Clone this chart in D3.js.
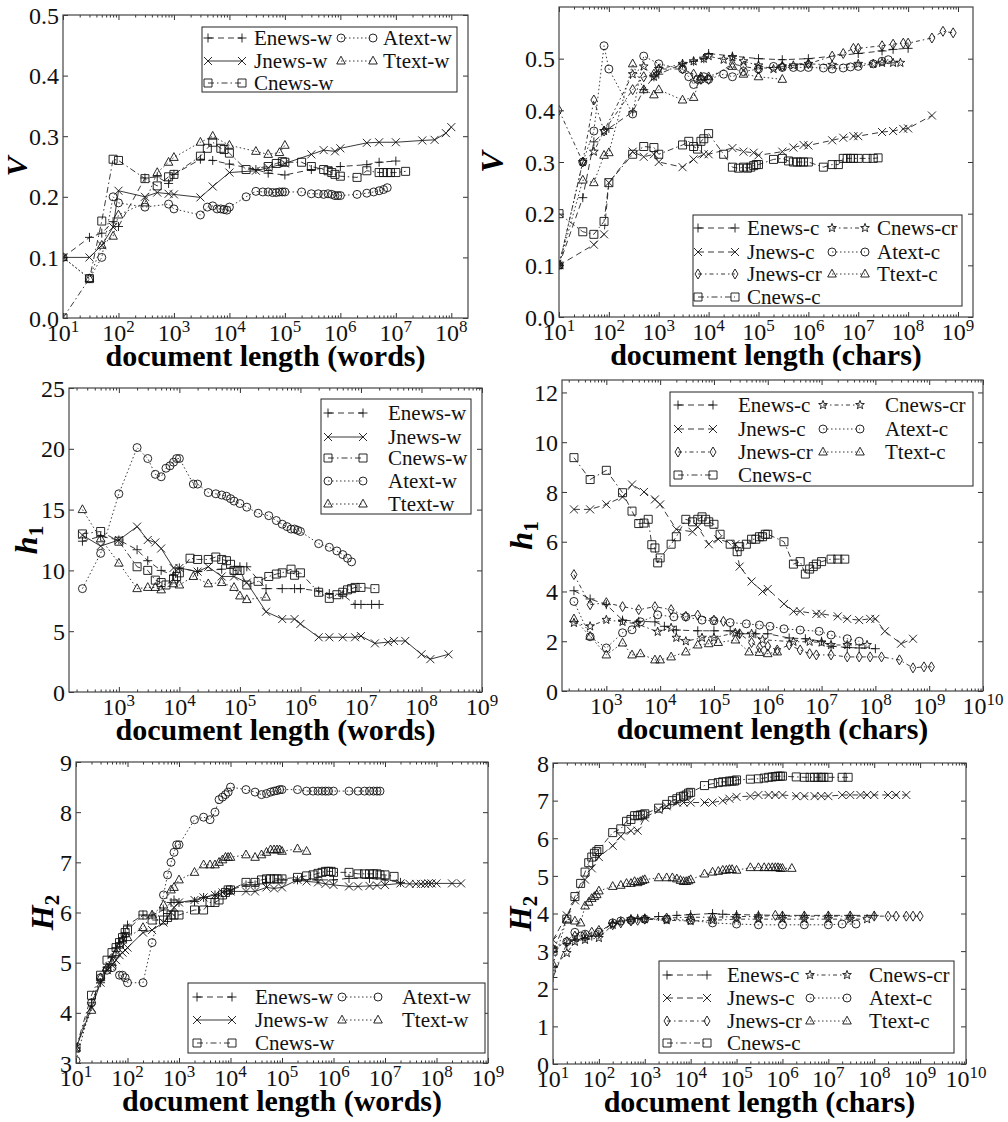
<!DOCTYPE html>
<html>
<head>
<meta charset="utf-8">
<script src="https://cdn.jsdelivr.net/npm/d3@7/dist/d3.min.js"></script>
<style>
  body { margin: 0; background: #fff; }
  svg text { font-family: "Liberation Serif", "Times New Roman", "DejaVu Serif", serif; }
</style>
</head>
<body>
<svg id="chart" width="1008" height="1122" font-family="Liberation Serif, Times New Roman, DejaVu Serif, serif"></svg>
<script>
// ---- V vs words ----
var vw_enews = [[10,0.1],[30,0.133],[50,0.14],[80,0.159],[100,0.151],[300,0.231],[500,0.233],[800,0.222],[1000,0.237],[3000,0.262],[5000,0.26],[1e4,0.254],[3e4,0.245],[5e4,0.239],[1e5,0.236],[3e5,0.245],[1e6,0.25],[3e6,0.253],[5e6,0.257],[1e7,0.259]];
var vw_jnews = [[10,0.1],[30,0.1],[50,0.12],[80,0.15],[100,0.21],[300,0.2],[500,0.207],[800,0.205],[1000,0.204],[3000,0.199],[5000,0.217],[1e4,0.24],[3e4,0.243],[5e4,0.248],[1e5,0.255],[3e5,0.27],[5e5,0.277],[8e5,0.275],[1e6,0.28],[3e6,0.289],[5e6,0.29],[1e7,0.29],[3e7,0.293],[5e7,0.294],[8e7,0.305],[1e8,0.315]];
var vw_cnews = [[10,0.0],[30,0.065],[50,0.16],[80,0.262],[100,0.26],[300,0.23],[500,0.218],[800,0.233],[1000,0.237],[3000,0.267],[4000,0.28],[5000,0.29],[7000,0.28],[8000,0.278],[1e4,0.272],[2e4,0.245],[5e4,0.25],[7e4,0.255],[9e4,0.258],[1e5,0.257],[2e5,0.257],[3e5,0.25],[5e5,0.245],[6e5,0.243],[7e5,0.24],[8e5,0.237],[1e6,0.234],[2e6,0.232],[3e6,0.243],[5e6,0.24],[6e6,0.24],[7e6,0.24],[8e6,0.24],[1e7,0.24],[1.5e7,0.242]];
var vw_atext = [[10,0.1],[30,0.065],[50,0.1],[80,0.2],[100,0.19],[300,0.183],[800,0.188],[1000,0.18],[3000,0.17],[4000,0.183],[5000,0.185],[6000,0.18],[7000,0.18],[8000,0.179],[9000,0.178],[1e4,0.183],[2e4,0.2],[3e4,0.209],[4e4,0.208],[5e4,0.208],[6e4,0.207],[7e4,0.207],[8e4,0.208],[9e4,0.208],[1e5,0.208],[2e5,0.208],[3e5,0.205],[4e5,0.205],[5e5,0.204],[6e5,0.205],[7e5,0.204],[8e5,0.202],[9e5,0.202],[1e6,0.202],[2e6,0.204],[3e6,0.206],[4e6,0.208],[5e6,0.21],[6e6,0.212],[7e6,0.215]];
var vw_ttext = [[10,0.1],[30,0.065],[50,0.12],[80,0.135],[100,0.17],[300,0.19],[500,0.24],[800,0.257],[1000,0.265],[3000,0.29],[5000,0.3],[1e4,0.285],[3e4,0.275],[5e4,0.27],[8e4,0.273],[1e5,0.285]];

// ---- V vs chars ----
var vc_enews = [[10,0.1],[30,0.231],[50,0.339],[100,0.365],[300,0.397],[500,0.44],[800,0.465],[1000,0.47],[3000,0.49],[5000,0.495],[8000,0.5],[1e4,0.51],[3e4,0.505],[1e5,0.5],[3e5,0.498],[1e6,0.5],[1e7,0.51],[3e7,0.515],[5e7,0.518],[1e8,0.52]];
var vc_jnews = [[10,0.1],[50,0.14],[80,0.16],[100,0.26],[300,0.32],[500,0.31],[800,0.315],[1000,0.3],[3000,0.29],[5000,0.305],[8000,0.315],[1e4,0.315],[3e4,0.327],[5e4,0.32],[8e4,0.318],[1e5,0.313],[3e5,0.32],[5e5,0.328],[8e5,0.333],[1e6,0.332],[3e6,0.342],[5e6,0.347],[8e6,0.35],[1e7,0.35],[3e7,0.358],[5e7,0.36],[8e7,0.364],[1e8,0.365],[3e8,0.39]];
var vc_jnewscr = [[10,0.4],[30,0.3],[50,0.42],[80,0.36],[300,0.44],[500,0.465],[800,0.47],[1000,0.48],[3000,0.48],[5000,0.47],[7000,0.46],[1e4,0.46],[3e4,0.49],[5e4,0.485],[1e5,0.48],[3e5,0.485],[1e6,0.49],[3e6,0.505],[5e6,0.51],[8e6,0.52],[1e7,0.52],[3e7,0.525],[5e7,0.528],[8e7,0.53],[1e8,0.53],[3e8,0.54],[5e8,0.553],[8e8,0.55]];
var vc_cnews = [[10,0.2],[30,0.165],[50,0.16],[80,0.185],[100,0.26],[300,0.315],[500,0.33],[800,0.328],[1000,0.315],[3000,0.333],[4000,0.34],[5000,0.33],[6000,0.325],[7000,0.34],[8000,0.345],[1e4,0.355],[2e4,0.315],[3e4,0.29],[4e4,0.288],[5e4,0.29],[6e4,0.288],[7e4,0.29],[8e4,0.293],[9e4,0.295],[1e5,0.295],[2e5,0.305],[3e5,0.307],[4e5,0.302],[5e5,0.3],[6e5,0.3],[7e5,0.3],[8e5,0.3],[1e6,0.3],[2e6,0.29],[3e6,0.295],[4e6,0.295],[5e6,0.307],[6e6,0.307],[7e6,0.307],[8e6,0.307],[1e7,0.307],[1.5e7,0.307],[2e7,0.307],[2.5e7,0.308]];
var vc_cnewscr = [[10,0.1],[30,0.3],[50,0.32],[80,0.36],[300,0.47],[500,0.485],[800,0.465],[1000,0.48],[3000,0.49],[5000,0.495],[8000,0.5],[1e4,0.505],[2e4,0.498],[3e4,0.503],[5e4,0.495],[1e5,0.487],[2e5,0.48],[3e5,0.485],[5e5,0.487],[1e6,0.49],[3e6,0.488],[1e7,0.49],[2e7,0.49],[3e7,0.492],[5e7,0.492],[7e7,0.492]];
var vc_atext = [[10,0.1],[30,0.3],[50,0.36],[80,0.525],[100,0.48],[300,0.393],[500,0.505],[1000,0.49],[3000,0.48],[4000,0.465],[5000,0.45],[6000,0.46],[7000,0.46],[8000,0.465],[1e4,0.46],[2e4,0.47],[3e4,0.465],[5e4,0.475],[1e5,0.48],[2e5,0.485],[3e5,0.483],[5e5,0.483],[7e5,0.483],[1e6,0.483],[2e6,0.482],[3e6,0.48],[5e6,0.482],[7e6,0.484],[1e7,0.485],[2e7,0.49],[3e7,0.495],[4e7,0.498]];
var vc_ttext = [[10,0.1],[30,0.265],[50,0.26],[80,0.313],[100,0.318],[300,0.49],[500,0.44],[800,0.43],[1000,0.44],[3000,0.42],[5000,0.425],[7000,0.465],[1e4,0.465],[3e4,0.485],[5e4,0.47],[1e5,0.465],[3e5,0.46]];

// ---- h1 vs words ----
var hw_enews = [[250,12.4],[500,12.8],[1000,12.5],[2000,11.7],[3000,10.8],[5000,10.0],[8000,9.6],[1e4,10.2],[2e4,9.9],[5e4,10.1],[1e5,10.3],[1.3e5,10.3],[2.7e5,8.5],[5e5,8.5],[8e5,8.5],[1e6,8.5],[2e6,8.3],[3e6,8.1],[5e6,8.0],[8e6,7.2],[1e7,7.2],[1.5e7,7.2],[2e7,7.2]];
var hw_jnews = [[250,12.9],[500,12.0],[1000,12.5],[2000,13.6],[3000,12.5],[4000,12.3],[5000,11.8],[8000,10.2],[1e4,10.2],[2e4,9.9],[3e4,10.3],[5e4,9.5],[8e4,9.5],[1.3e5,9.0],[2.7e5,6.6],[5e5,6.0],[8e5,6.0],[1e6,5.6],[2e6,4.5],[3e6,4.5],[5e6,4.5],[8e6,4.5],[1e7,4.6],[1.7e7,4.0],[2.8e7,4.1],[3.5e7,4.2],[5.4e7,4.2],[1e8,3.1],[1.4e8,2.7],[2.8e8,3.1]];
var hw_cnews = [[250,13],[500,13.2],[1000,12.4],[2000,10.3],[3000,10.0],[4000,9.2],[5000,9.0],[6000,8.8],[8000,9.3],[9000,9.5],[1e4,9.8],[1.5e4,11.0],[2e4,10.9],[3e4,10.9],[4e4,11.1],[5e4,10.9],[6e4,10.8],[7e4,10.5],[8e4,10.0],[9e4,10.0],[1e5,10.0],[1.3e5,8.8],[2e5,9.1],[3e5,9.5],[4e5,9.7],[5e5,9.8],[7e5,10.1],[8e5,9.6],[1e6,9.8],[2e6,8.2],[3e6,7.7],[4e6,8.0],[5e6,8.2],[6e6,8.4],[7e6,8.5],[8e6,8.6],[1e7,8.6],[1.7e7,8.5]];
var hw_atext = [[250,8.5],[500,11.4],[1000,16.3],[2000,20.1],[3000,19.2],[4000,17.9],[5000,17.7],[6000,18.4],[7000,18.6],[8000,18.9],[9000,19.2],[1e4,19.2],[1.7e4,17.1],[2e4,17.1],[3e4,16.4],[4e4,16.3],[5e4,16.2],[6e4,16.1],[7e4,15.9],[8e4,15.7],[1e5,15.5],[1.3e5,15.2],[2e5,14.7],[3e5,14.5],[4e5,14.1],[5e5,13.8],[6e5,13.6],[7e5,13.4],[8e5,13.4],[9e5,13.3],[1e6,13.2],[2e6,12.2],[3e6,11.9],[4e6,11.6],[5e6,11.3],[6e6,11.0],[7e6,10.7]];
var hw_ttext = [[250,15],[500,12.6],[1000,10.6],[2000,8.5],[3000,8.6],[4000,8.6],[5000,8.4],[8000,8.9],[1e4,8.8],[1.7e4,9.5],[3e4,8.9],[5e4,9.0],[8e4,8.6],[1e5,7.9],[1.3e5,7.6],[2.7e5,7.8]];

// ---- h1 vs chars ----
var hc_enews = [[250,4.03],[500,3.7],[1000,3.47],[2000,2.85],[4000,2.8],[8000,2.78],[1.2e4,2.6],[2e4,2.45],[5e4,2.42],[1e5,2.42],[2e5,2.42],[3e5,2.3],[6e5,2.3],[1e6,2.3],[2.5e6,2.13],[5e6,2.1],[1e7,2.0],[1.5e7,1.8],[3e7,1.75],[5e7,1.73],[1e8,1.7]];
var hc_jnews = [[250,7.3],[500,7.3],[1000,7.5],[2000,7.8],[3000,8.3],[5000,8.0],[8000,7.7],[1e4,7.5],[2e4,6.5],[4e4,6.4],[5e4,6.6],[8e4,5.9],[1.2e5,6.1],[2.5e5,5.9],[3e5,5.0],[5e5,4.4],[8e5,4.0],[1e6,4.1],[2e6,3.5],[3e6,3.2],[4e6,3.2],[8e6,3.1],[1e7,3.1],[2e7,3.0],[3e7,2.9],[5e7,2.85],[8e7,2.9],[1e8,2.9],[1.5e8,2.4],[3e8,1.9],[5e8,2.1]];
var hc_jnewscr = [[250,4.68],[500,3.47],[1000,3.55],[2000,3.39],[4000,3.27],[8000,3.39],[1.6e4,3.27],[3e4,3.0],[5e4,3.05],[1e5,2.85],[1.5e5,2.8],[3e5,2.3],[5e5,1.95],[7e5,1.75],[1e6,1.8],[1.5e6,1.65],[2.5e6,1.85],[4e6,1.65],[6e6,1.5],[8e6,1.45],[1.5e7,1.45],[3e7,1.37],[5e7,1.37],[8e7,1.37],[1.3e8,1.37],[2.8e8,1.25],[5e8,0.93],[8e8,0.97],[1.1e9,0.97]];
var hc_cnews = [[250,9.38],[500,8.5],[1000,8.87],[2000,7.97],[3000,7.23],[4000,6.73],[5000,6.75],[6000,6.9],[7000,5.88],[8000,5.75],[9000,5.15],[1e4,5.35],[1.6e4,5.9],[2e4,6.2],[3e4,6.9],[4e4,6.8],[5e4,6.9],[6e4,7.0],[7e4,6.9],[8e4,6.8],[1e5,6.7],[1.3e5,6.3],[2e5,5.9],[2.7e5,5.6],[3e5,5.8],[4e5,5.9],[5e5,6.1],[6e5,6.1],[7e5,6.2],[8e5,6.2],[9e5,6.3],[1e6,6.3],[2e6,6.0],[3e6,5.1],[4e6,5.2],[5e6,4.7],[6e6,4.9],[7e6,5.0],[8e6,5.1],[1e7,5.2],[1.5e7,5.3],[2e7,5.3],[2.7e7,5.3]];
var hc_cnewscr = [[250,2.74],[500,2.6],[1000,2.86],[2000,2.78],[3700,2.7],[9000,2.38],[1.6e4,2.54],[2e4,2.14],[3e4,2.0],[6e4,2.14],[1e5,2.14],[2.5e5,2.34],[5e5,2.3],[8e5,2.06],[3e6,1.98],[6e6,1.98],[1e7,1.95],[1.5e7,1.85],[3e7,1.85],[7e7,1.85]];
var hc_atext = [[250,3.6],[500,2.18],[1000,1.73],[2000,2.34],[3000,2.46],[4300,2.78],[9000,3.06],[1.8e4,2.98],[3e4,2.98],[6e4,2.85],[1e5,2.82],[2e5,2.75],[4e5,2.7],[7e5,2.65],[1.1e6,2.6],[2e6,2.5],[4e6,2.45],[9e6,2.4],[1.5e7,2.25],[3e7,2.1],[5e7,2.0]];
var hc_ttext = [[250,2.9],[500,2.2],[1000,1.45],[2000,1.93],[3000,1.45],[4300,1.5],[8000,1.25],[1e4,1.25],[1.6e4,1.37],[3e4,1.57],[5e4,1.85],[8e4,1.9],[1.2e5,1.95],[2.5e5,2.05],[4.5e5,1.57],[7e5,1.55],[1e6,1.5],[1.5e6,1.57]];

// ---- H2 vs words ----
var Hw_enews = [[10,3.3],[20,4.2],[30,4.6],[40,4.9],[50,5.1],[60,5.3],[70,5.4],[80,5.5],[90,5.6],[100,5.75],[200,5.95],[300,5.95],[500,6.05],[700,6.2],[800,6.25],[1e3,6.2],[2e3,6.22],[3e3,6.3],[5e3,6.35],[1e4,6.45],[2e4,6.55],[3e4,6.55],[5e4,6.6],[1e5,6.65],[2e5,6.65],[5e5,6.65],[1e6,6.65],[2e6,6.68],[5e6,6.68],[1e7,6.65],[2e7,6.6]];
var Hw_jnews = [[10,3.3],[20,4.1],[30,4.6],[40,4.85],[50,4.95],[60,5.05],[70,5.15],[80,5.2],[90,5.25],[100,5.3],[200,5.6],[300,5.65],[500,5.8],[700,6.0],[800,6.1],[1e3,6.2],[2e3,6.25],[3e3,6.3],[5e3,6.35],[7e3,6.4],[1e4,6.42],[2e4,6.42],[3e4,6.42],[5e4,6.5],[7e4,6.48],[1e5,6.5],[2e5,6.65],[3e5,6.62],[5e5,6.6],[7e5,6.57],[1e6,6.55],[2e6,6.52],[3e6,6.52],[5e6,6.53],[7e6,6.54],[1e7,6.55],[2e7,6.58],[3e7,6.57],[4e7,6.57],[5e7,6.57],[6e7,6.57],[7e7,6.58],[8e7,6.58],[1e8,6.58],[2e8,6.58],[3e8,6.58]];
var Hw_cnews = [[10,3.3],[20,4.35],[30,4.75],[40,5.05],[50,5.2],[60,5.3],[70,5.4],[80,5.5],[90,5.6],[100,5.65],[200,5.95],[300,5.85],[500,5.85],[600,5.9],[700,5.95],[800,5.95],[1e3,5.95],[2e3,6.05],[3e3,6.05],[4e3,6.2],[5e3,6.2],[6e3,6.25],[7e3,6.35],[8e3,6.4],[9e3,6.45],[1e4,6.45],[2e4,6.6],[3e4,6.6],[4e4,6.65],[5e4,6.67],[6e4,6.67],[7e4,6.67],[8e4,6.67],[1e5,6.67],[2e5,6.7],[3e5,6.73],[4e5,6.75],[5e5,6.78],[6e5,6.8],[7e5,6.82],[8e5,6.82],[9e5,6.82],[1e6,6.8],[2e6,6.8],[3e6,6.77],[4e6,6.77],[5e6,6.77],[6e6,6.77],[7e6,6.77],[8e6,6.75],[1e7,6.75],[1.5e7,6.72]];
var Hw_atext = [[10,3.05],[20,4.2],[30,4.7],[40,4.85],[50,4.9],[70,4.75],[80,4.75],[90,4.7],[100,4.6],[200,4.6],[300,5.4],[500,6.35],[600,6.75],[700,7.0],[800,7.2],[900,7.35],[1e3,7.35],[2e3,7.85],[3e3,7.9],[4e3,7.85],[5e3,8.0],[6e3,8.25],[7e3,8.3],[8e3,8.35],[9e3,8.4],[1e4,8.5],[2e4,8.45],[3e4,8.4],[4e4,8.35],[5e4,8.37],[6e4,8.4],[7e4,8.42],[8e4,8.43],[9e4,8.45],[1e5,8.45],[2e5,8.45],[3e5,8.42],[4e5,8.42],[5e5,8.42],[6e5,8.42],[7e5,8.42],[8e5,8.42],[1e6,8.42],[2e6,8.42],[3e6,8.42],[4e6,8.42],[5e6,8.42],[6e6,8.42],[7e6,8.42],[8e6,8.42]];
var Hw_ttext = [[10,3.3],[20,4.05],[30,4.7],[40,4.9],[50,5.0],[60,5.2],[70,5.35],[80,5.45],[100,5.5],[200,5.7],[300,5.95],[500,6.15],[700,6.45],[800,6.5],[1e3,6.65],[2e3,6.8],[3e3,6.95],[4e3,6.95],[5e3,6.95],[6e3,7.0],[7e3,7.05],[8e3,7.1],[9e3,7.1],[1e4,7.1],[2e4,7.15],[3e4,7.1],[4e4,7.15],[5e4,7.2],[6e4,7.25],[7e4,7.25],[8e4,7.25],[9e4,7.25],[1e5,7.22],[2e5,7.27],[3e5,7.22]];

// ---- H2 vs chars ----
var Hc_enews = [[10,2.3],[20,3.2],[30,3.3],[50,3.35],[70,3.4],[100,3.45],[200,3.75],[300,3.8],[500,3.85],[700,3.87],[1e3,3.88],[2e3,3.92],[5e3,3.95],[1e4,3.97],[3e4,4.0],[5e4,3.98],[1e5,3.97],[3e5,3.96],[1e6,3.95],[3e6,3.95],[1e7,3.95],[3e7,3.95],[1e8,3.95]];
var Hc_jnews = [[10,3.3],[20,3.95],[30,4.35],[50,4.9],[70,5.2],[100,5.5],[200,5.8],[300,6.05],[500,6.2],[700,6.2],[1e3,6.55],[2e3,6.75],[3e3,6.85],[5e3,6.95],[7e3,6.95],[1e4,6.95],[2e4,6.95],[3e4,6.95],[5e4,7.0],[7e4,7.05],[1e5,7.1],[2e5,7.12],[3e5,7.15],[5e5,7.15],[7e5,7.15],[1e6,7.15],[2e6,7.12],[3e6,7.12],[5e6,7.12],[7e6,7.12],[1e7,7.12],[2e7,7.15],[3e7,7.15],[5e7,7.15],[7e7,7.15],[1e8,7.15],[2e8,7.15],[3e8,7.15],[5e8,7.15]];
var Hc_jnewscr = [[10,3.05],[20,3.25],[30,3.4],[50,3.4],[70,3.5],[100,3.55],[200,3.7],[300,3.75],[500,3.8],[700,3.82],[1e3,3.85],[3e3,3.88],[1e4,3.9],[3e4,3.9],[1e5,3.92],[3e5,3.92],[7e5,3.95],[1e6,3.93],[3e6,3.93],[1e7,3.93],[3e7,3.93],[1e8,3.93],[2e8,3.93],[3e8,3.93],[5e8,3.93],[7e8,3.93],[1e9,3.93]];
var Hc_cnews = [[10,3.0],[20,3.85],[30,4.45],[40,4.8],[50,5.1],[60,5.35],[70,5.5],[80,5.6],[90,5.65],[100,5.7],[200,6.15],[300,6.25],[400,6.45],[500,6.5],[600,6.6],[700,6.6],[800,6.62],[900,6.62],[1e3,6.65],[2e3,6.8],[3e3,6.9],[4e3,7.0],[5e3,7.05],[6e3,7.1],[7e3,7.12],[8e3,7.15],[9e3,7.2],[1e4,7.22],[2e4,7.4],[3e4,7.45],[4e4,7.48],[5e4,7.5],[6e4,7.5],[7e4,7.52],[8e4,7.52],[9e4,7.52],[1e5,7.55],[2e5,7.57],[3e5,7.58],[4e5,7.6],[5e5,7.62],[6e5,7.63],[7e5,7.64],[8e5,7.65],[9e5,7.65],[1e6,7.65],[2e6,7.63],[3e6,7.62],[4e6,7.62],[5e6,7.62],[6e6,7.62],[7e6,7.62],[8e6,7.62],[1e7,7.62],[2e7,7.62],[2.7e7,7.62]];
var Hc_cnewscr = [[10,2.55],[20,2.95],[30,3.25],[50,3.3],[100,3.35],[200,3.7],[500,3.85],[1e3,3.85],[3e3,3.82],[1e4,3.8],[3e4,3.82],[1e5,3.85],[3e5,3.85],[1e6,3.85],[3e6,3.85],[1e7,3.85],[3e7,3.85],[7e7,3.85]];
var Hc_atext = [[10,3.05],[20,3.25],[30,3.5],[40,3.4],[50,3.45],[100,3.5],[200,3.75],[300,3.8],[500,3.82],[1e3,3.85],[3e3,3.85],[1e4,3.82],[3e4,3.75],[1e5,3.72],[3e5,3.7],[1e6,3.7],[3e6,3.7],[1e7,3.7],[2e7,3.72],[4e7,3.72]];
var Hc_ttext = [[10,2.65],[20,3.85],[30,3.8],[40,3.75],[50,4.2],[60,4.3],[70,4.4],[80,4.45],[90,4.5],[100,4.6],[200,4.72],[300,4.75],[400,4.8],[500,4.8],[600,4.85],[700,4.82],[800,4.85],[900,4.88],[1e3,4.9],[2e3,4.95],[3e3,4.95],[4e3,4.95],[5e3,4.92],[6e3,4.88],[7e3,4.85],[8e3,4.85],[9e3,4.87],[1e4,4.9],[2e4,5.05],[3e4,5.1],[4e4,5.12],[5e4,5.15],[6e4,5.15],[7e4,5.17],[8e4,5.17],[1e5,5.15],[2e5,5.22],[3e5,5.22],[4e5,5.22],[5e5,5.22],[6e5,5.22],[7e5,5.22],[8e5,5.22],[9e5,5.2],[1e6,5.2],[1.6e6,5.2]];

// line / marker styles
var styles = {
  enews:   {m: "plus",     dash: "6,4"},
  jnewsw:  {m: "cross",    dash: null},
  jnewsc:  {m: "cross",    dash: "6,4"},
  cnews:   {m: "square",   dash: "6,3,1.5,3"},
  atext:   {m: "circle",   dash: "1.5,2.5"},
  ttext:   {m: "triangle", dash: "1.5,2.5"},
  jnewscr: {m: "diamond",  dash: "4,3,1.5,3"},
  cnewscr: {m: "star",     dash: "4,3,1.5,3"}
};

var panels = [
  {x: 63, y: 15, w: 405, h: 303, xdom: [10, 2e8], ydom: [0, 0.5], yticks: [0, .1, .2, .3, .4, .5], yfmt: d3.format(".1f"),
   xexp: [1, 2, 3, 4, 5, 6, 7, 8], ylab: "V", ysub: null, ylabX: 27, ylabSize: 30, xlab: "document length (words)",
   series: [["Enews-w", vw_enews, "enews"], ["Jnews-w", vw_jnews, "jnewsw"], ["Cnews-w", vw_cnews, "cnews"], ["Atext-w", vw_atext, "atext"], ["Ttext-w", vw_ttext, "ttext"]],
   legend: {box: [202, 27, 457, 92], rows: [38, 61, 83], cols: [[208, 242, 254], [341, 373, 383]],
            items: [[0, 0], [0, 1], [0, 2], [1, 0], [1, 1]]}},
  {x: 559, y: 7, w: 414, h: 310, xdom: [10, 2e9], ydom: [0, 0.6], yticks: [0, .1, .2, .3, .4, .5], yfmt: d3.format(".1f"),
   xexp: [1, 2, 3, 4, 5, 6, 7, 8, 9], ylab: "V", ysub: null, ylabX: 503, ylabSize: 32, xlab: "document length (chars)",
   series: [["Enews-c", vc_enews, "enews"], ["Jnews-c", vc_jnews, "jnewsc"], ["Jnews-cr", vc_jnewscr, "jnewscr"], ["Cnews-c", vc_cnews, "cnews"], ["Cnews-cr", vc_cnewscr, "cnewscr"], ["Atext-c", vc_atext, "atext"], ["Ttext-c", vc_ttext, "ttext"]],
   legend: {box: [693, 215, 962, 306], rows: [228, 252, 274, 297], cols: [[698, 735, 747], [832, 865, 877]],
            items: [[0, 0], [0, 1], [0, 2], [0, 3], [1, 0], [1, 1], [1, 2]]}},
  {x: 69, y: 388, w: 413, h: 304, xdom: [150, 1e9], ydom: [0, 25], yticks: [0, 5, 10, 15, 20, 25], yfmt: d3.format("d"),
   xexp: [3, 4, 5, 6, 7, 8, 9], ylab: "h", ysub: "1", ylabX: 37, ylabSize: 32, xlab: "document length (words)",
   series: [["Enews-w", hw_enews, "enews"], ["Jnews-w", hw_jnews, "jnewsw"], ["Cnews-w", hw_cnews, "cnews"], ["Atext-w", hw_atext, "atext"], ["Ttext-w", hw_ttext, "ttext"]],
   legend: {box: [321, 399, 471, 514], rows: [413, 437, 458, 481, 504], cols: [[328, 363, 388]],
            items: [[0, 0], [0, 1], [0, 2], [0, 3], [0, 4]]}},
  {x: 562, y: 380, w: 421, h: 311, xdom: [150, 1e10], ydom: [0, 12.5], yticks: [0, 2, 4, 6, 8, 10, 12], yfmt: d3.format("d"),
   xexp: [3, 4, 5, 6, 7, 8, 9, 10], ylab: "h", ysub: "1", ylabX: 532, ylabSize: 32, xlab: "document length (chars)",
   series: [["Enews-c", hc_enews, "enews"], ["Jnews-c", hc_jnews, "jnewsc"], ["Jnews-cr", hc_jnewscr, "jnewscr"], ["Cnews-c", hc_cnews, "cnews"], ["Cnews-cr", hc_cnewscr, "cnewscr"], ["Atext-c", hc_atext, "atext"], ["Ttext-c", hc_ttext, "ttext"]],
   legend: {box: [670, 392, 973, 486], rows: [405, 429, 452, 475], cols: [[678, 713, 738], [823, 860, 885]],
            items: [[0, 0], [0, 1], [0, 2], [0, 3], [1, 0], [1, 1], [1, 2]]}},
  {x: 76, y: 762, w: 412, h: 301, xdom: [10, 1e9], ydom: [3, 9], yticks: [3, 4, 5, 6, 7, 8, 9], yfmt: d3.format("d"),
   xexp: [1, 2, 3, 4, 5, 6, 7, 8, 9], ylab: "H", ysub: "2", ylabX: 53, ylabSize: 32, xlab: "document length (words)",
   series: [["Enews-w", Hw_enews, "enews"], ["Jnews-w", Hw_jnews, "jnewsw"], ["Cnews-w", Hw_cnews, "cnews"], ["Atext-w", Hw_atext, "atext"], ["Ttext-w", Hw_ttext, "ttext"]],
   legend: {box: [188, 983, 485, 1053], rows: [997, 1020, 1043], cols: [[197, 232, 255], [342, 378, 402]],
            items: [[0, 0], [0, 1], [0, 2], [1, 0], [1, 1]]}},
  {x: 553, y: 763, w: 413, h: 301, xdom: [10, 1e10], ydom: [0, 8], yticks: [0, 1, 2, 3, 4, 5, 6, 7, 8], yfmt: d3.format("d"),
   xexp: [1, 2, 3, 4, 5, 6, 7, 8, 9, 10], ylab: "H", ysub: "2", ylabX: 531, ylabSize: 32, xlab: "document length (chars)",
   series: [["Enews-c", Hc_enews, "enews"], ["Jnews-c", Hc_jnews, "jnewsc"], ["Jnews-cr", Hc_jnewscr, "jnewscr"], ["Cnews-c", Hc_cnews, "cnews"], ["Cnews-cr", Hc_cnewscr, "cnewscr"], ["Atext-c", Hc_atext, "atext"], ["Ttext-c", Hc_ttext, "ttext"]],
   legend: {box: [659, 961, 954, 1053], rows: [975, 998, 1021, 1043], cols: [[667, 707, 727], [810, 847, 869]],
            items: [[0, 0], [0, 1], [0, 2], [0, 3], [1, 0], [1, 1], [1, 2]]}}
];

function markerPath(type) {
  switch (type) {
    case "plus": return "M-4.5,0H4.5M0,-4.5V4.5";
    case "cross": return "M-4,-4L4,4M-4,4L4,-4";
    case "square": return "M-4,-4H4V4H-4Z";
    case "circle": return "M4,0A4,4 0 1,1 -4,0A4,4 0 1,1 4,0Z";
    case "triangle": return "M0,-4.8L4.3,3L-4.3,3Z";
    case "diamond": return "M0,-5L3,0L0,5L-3,0Z";
    case "star":
      var p = [];
      for (var i = 0; i < 10; i++) {
        var r = i % 2 ? 1.9 : 4.6, a = -Math.PI / 2 + i * Math.PI / 5;
        p.push((i ? "L" : "M") + (r * Math.cos(a)).toFixed(2) + "," + (r * Math.sin(a)).toFixed(2));
      }
      return p.join("") + "Z";
  }
}

var svg = d3.select("#chart");

function drawMarker(g, type, cx, cy) {
  g.append("path")
    .attr("d", markerPath(type))
    .attr("transform", "translate(" + cx + "," + cy + ")")
    .attr("fill", "none")
    .attr("stroke", "#111")
    .attr("stroke-width", 0.9);
}

panels.forEach(function(p, pi) {
  var x = d3.scaleLog().domain(p.xdom).range([0, p.w]);
  var y = d3.scaleLinear().domain(p.ydom).range([p.h, 0]);
  var g = svg.append("g").attr("transform", "translate(" + p.x + "," + p.y + ")");

  g.append("clipPath").attr("id", "clip" + pi)
    .append("rect").attr("width", p.w).attr("height", p.h);

  var majors = p.xexp.map(function(e) { return Math.pow(10, e); });
  var minors = [];
  for (var e = Math.floor(Math.log10(p.xdom[0])); e < Math.ceil(Math.log10(p.xdom[1])); e++) {
    for (var k = 2; k < 10; k++) {
      var v = k * Math.pow(10, e);
      if (v > p.xdom[0] && v < p.xdom[1]) minors.push(v);
    }
  }

  // inward ticks on all four sides
  function noDomain(sel) { sel.select(".domain").remove(); sel.selectAll("line").attr("stroke", "#333"); }
  g.append("g").attr("transform", "translate(0," + p.h + ")")
    .call(d3.axisBottom(x).tickValues(majors).tickSize(-5).tickFormat("")).call(noDomain);
  g.append("g").attr("transform", "translate(0," + p.h + ")")
    .call(d3.axisBottom(x).tickValues(minors).tickSize(-2.5).tickFormat("")).call(noDomain);
  g.append("g")
    .call(d3.axisTop(x).tickValues(majors).tickSize(-5).tickFormat("")).call(noDomain);
  g.append("g")
    .call(d3.axisTop(x).tickValues(minors).tickSize(-2.5).tickFormat("")).call(noDomain);
  g.append("g")
    .call(d3.axisLeft(y).tickValues(p.yticks).tickSize(-5).tickFormat("")).call(noDomain);
  g.append("g").attr("transform", "translate(" + p.w + ",0)")
    .call(d3.axisRight(y).tickValues(p.yticks).tickSize(-5).tickFormat("")).call(noDomain);

  // x tick labels 10^n
  p.xexp.forEach(function(e) {
    var t = g.append("text")
      .attr("x", x(Math.pow(10, e)))
      .attr("y", p.h + 23)
      .attr("text-anchor", "middle")
      .attr("font-size", 24)
      .attr("fill", "#111");
    t.append("tspan").text("10");
    t.append("tspan").attr("dy", -9).attr("font-size", 17).text(e);
  });

  // y tick labels
  p.yticks.forEach(function(v) {
    g.append("text")
      .attr("x", -4)
      .attr("y", y(v))
      .attr("dy", "0.36em")
      .attr("text-anchor", "end")
      .attr("font-size", 24)
      .attr("fill", "#111")
      .text(p.yfmt(v));
  });

  // series
  var plot = g.append("g").attr("clip-path", "url(#clip" + pi + ")");
  var line = d3.line()
    .x(function(d) { return x(d[0]); })
    .y(function(d) { return y(d[1]); });
  p.series.forEach(function(s) {
    var st = styles[s[2]];
    plot.append("path")
      .datum(s[1])
      .attr("d", line)
      .attr("fill", "none")
      .attr("stroke", "#222")
      .attr("stroke-width", 0.9)
      .attr("stroke-dasharray", st.dash);
    s[1].forEach(function(d) { drawMarker(plot, st.m, x(d[0]), y(d[1])); });
  });

  // frame
  g.append("rect").attr("width", p.w).attr("height", p.h)
    .attr("fill", "none").attr("stroke", "#444").attr("stroke-width", 1.2);

  // axis labels
  svg.append("text")
    .attr("x", p.x + p.w / 2)
    .attr("y", p.y + p.h + 48)
    .attr("text-anchor", "middle")
    .attr("font-size", 30)
    .attr("font-weight", "bold")
    .attr("fill", "#000")
    .text(p.xlab);

  var yl = svg.append("text")
    .attr("transform", "translate(" + p.ylabX + "," + (p.y + p.h / 2) + ") rotate(-90)")
    .attr("text-anchor", "middle")
    .attr("font-size", p.ylabSize)
    .attr("font-weight", "bold")
    .attr("fill", "#000");
  yl.append("tspan").attr("font-style", "italic").text(p.ylab);
  if (p.ysub) yl.append("tspan").attr("font-size", 21).attr("dy", 6).text(p.ysub);

  // legend
  var L = p.legend;
  var lg = svg.append("g");
  lg.append("rect")
    .attr("x", L.box[0]).attr("y", L.box[1])
    .attr("width", L.box[2] - L.box[0]).attr("height", L.box[3] - L.box[1])
    .attr("fill", "#fff").attr("stroke", "#222").attr("stroke-width", 1);
  p.series.forEach(function(s, i) {
    var st = styles[s[2]];
    var c = L.cols[L.items[i][0]], ry = L.rows[L.items[i][1]];
    lg.append("line")
      .attr("x1", c[0]).attr("x2", c[1]).attr("y1", ry).attr("y2", ry)
      .attr("stroke", "#222").attr("stroke-width", 0.9)
      .attr("stroke-dasharray", st.dash);
    drawMarker(lg, st.m, c[0], ry);
    drawMarker(lg, st.m, c[1], ry);
    lg.append("text")
      .attr("x", c[2]).attr("y", ry + 7)
      .attr("font-size", 21)
      .attr("fill", "#111")
      .text(s[0]);
  });
});
</script>
</body>
</html>
